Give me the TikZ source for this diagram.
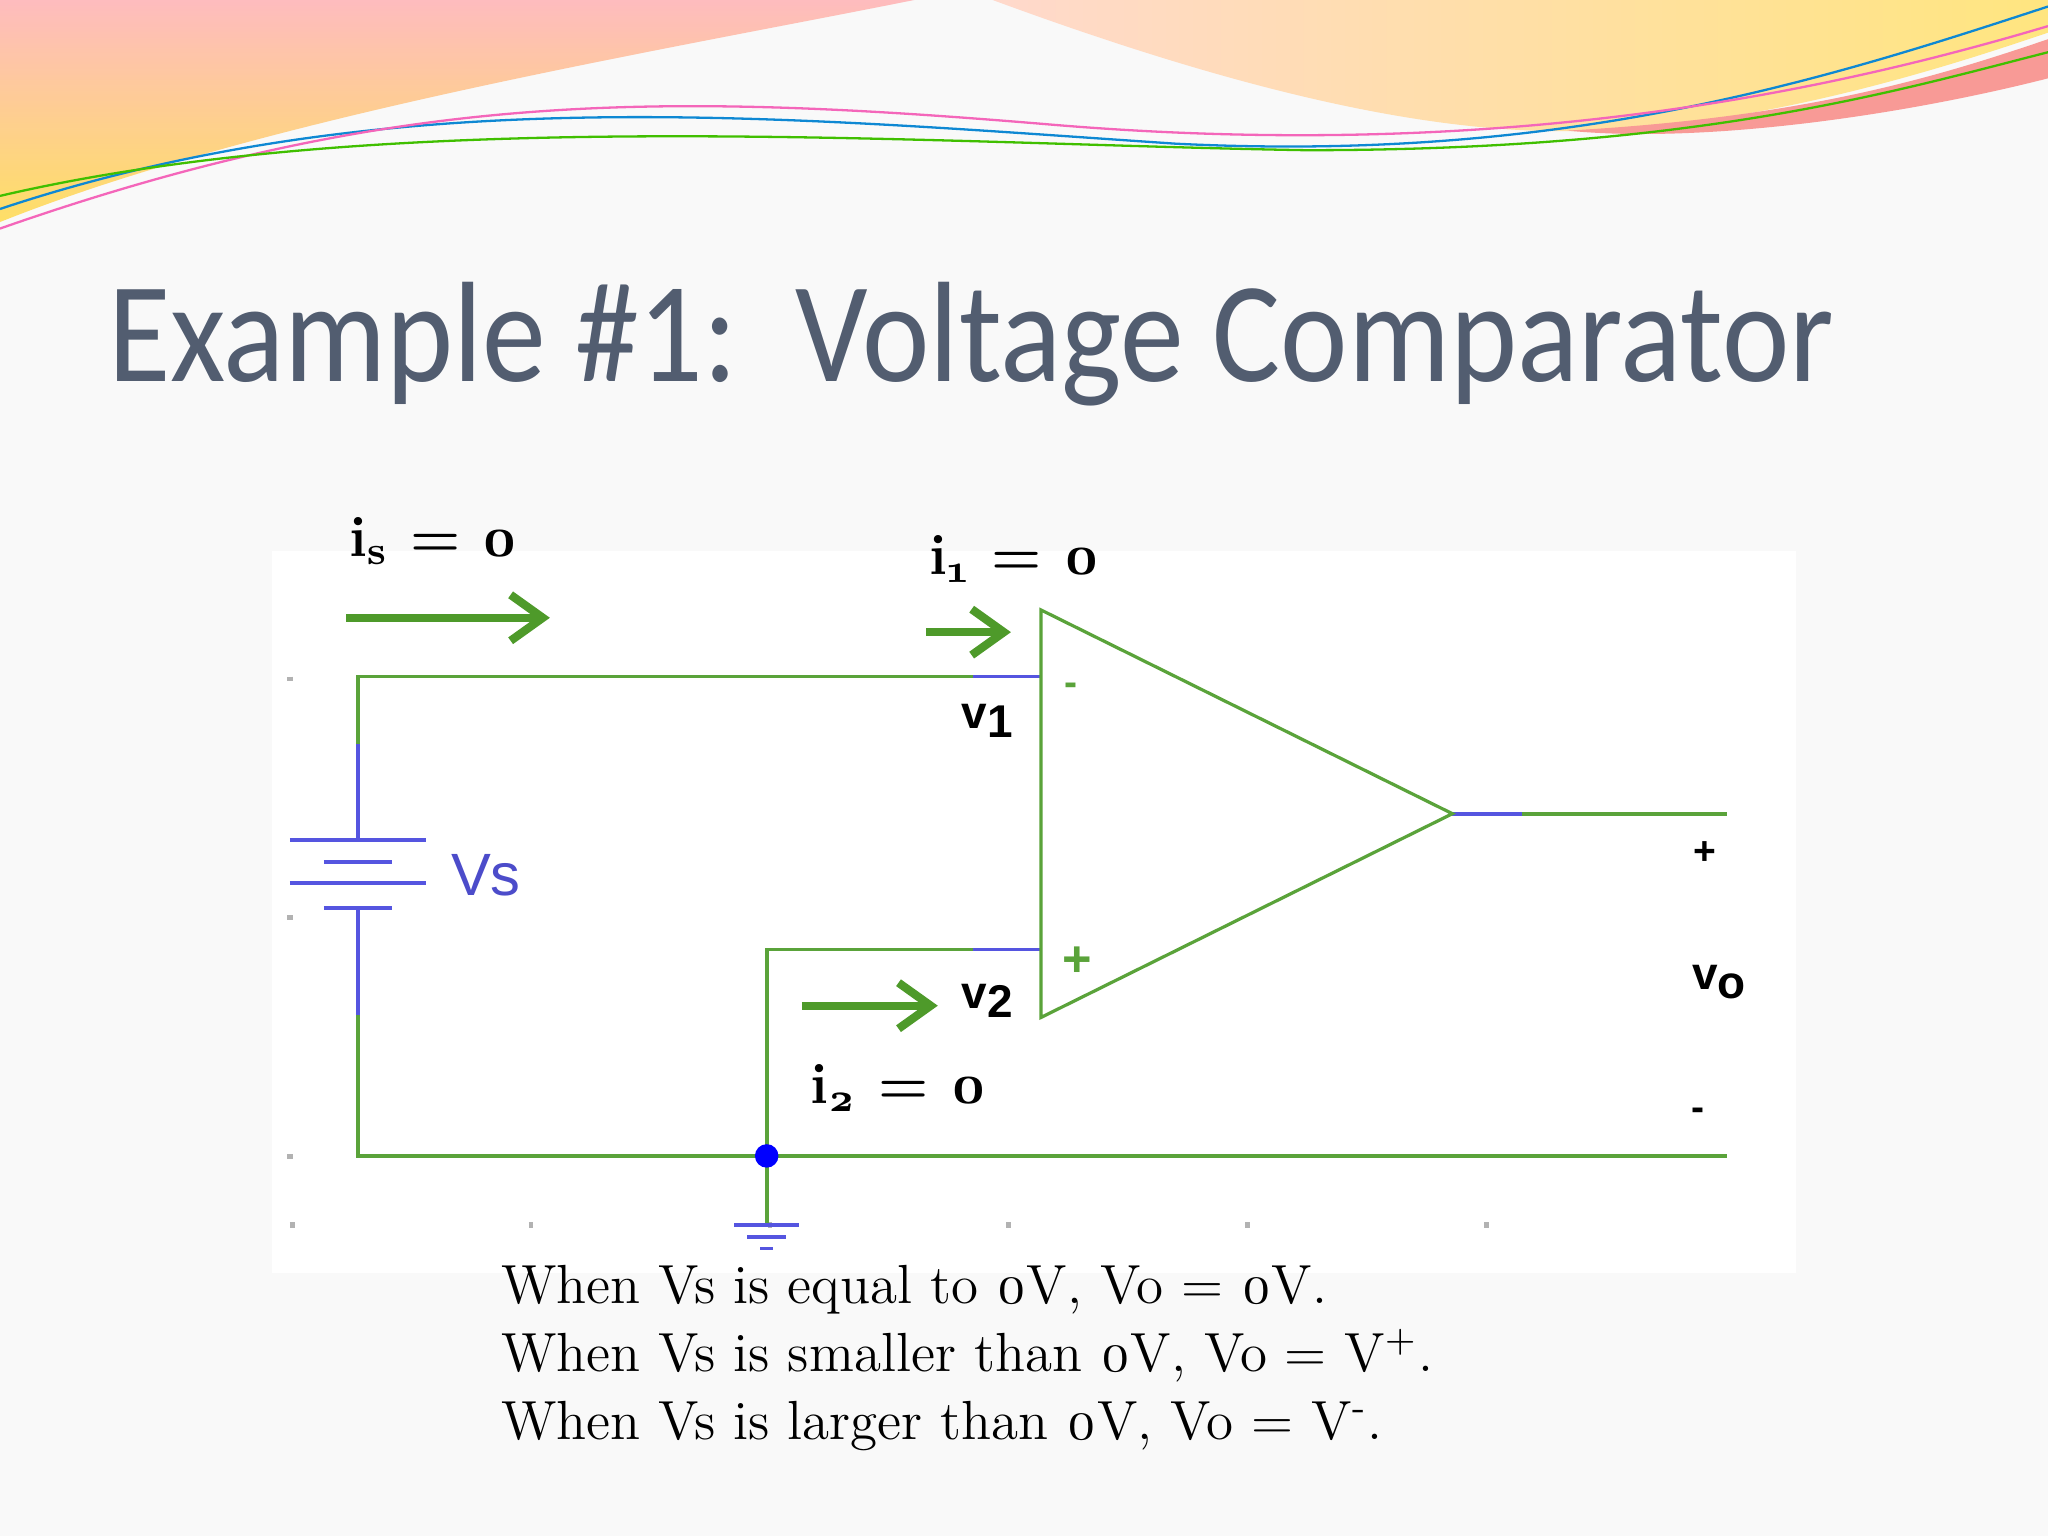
\documentclass[tikz,border=0pt]{standalone}
\usepackage{fontspec}
\setmainfont{Latin Modern Roman}[Numbers=OldStyle]
\newfontfamily\titlefont{Carlito}
\newfontfamily\arialf{Liberation Sans}
\usetikzlibrary{arrows.meta}
\definecolor{wire}{HTML}{5AA33A}
\definecolor{bluew}{HTML}{5555E0}
\definecolor{titlec}{HTML}{525D70}
\definecolor{arrowg}{HTML}{4E9A2A}
\tikzset{w/.style={draw=wire,line width=0.8pt},
 bw/.style={draw=bluew,line width=0.8pt},
 garrow/.style={draw=arrowg,line width=1.8pt,-{Straight Barb[length=7pt,width=10pt]}},
 ilab/.style={font=\fontsize{12.5}{12.5}\selectfont\bfseries,inner sep=0pt},
 small/.style={font=\arialf\bfseries\fontsize{8.5}{8.5}\selectfont,inner sep=0pt}}
\begin{document}
\begin{tikzpicture}[x=0.01cm,y=-0.01cm]
\fill[white!95!gray] (0,0) rectangle (1568,1176);
\useasboundingbox (0,0) rectangle (1568,1176);
% top swoosh
\shade[top color=magenta!35!orange!45,bottom color=orange!40!yellow!70,opacity=.85] (0,0) -- (700,0) .. controls (500,40) and (200,90) .. (0,170) -- cycle;
\shade[left color=magenta!20!orange!25,right color=orange!40!yellow!50] (760,0) .. controls (950,70) and (1100,105) .. (1220,100) .. controls (1350,95) and (1480,55) .. (1568,25) -- (1568,0) -- cycle;
\fill[magenta!45!orange!55] (1200,100) .. controls (1380,90) and (1480,60) .. (1568,30) -- (1568,60) .. controls (1450,90) and (1300,110) .. (1200,100) -- cycle;
\draw[cyan!70!blue,line width=.5pt] (0,160) .. controls (300,60) and (600,90) .. (900,110) .. controls (1200,125) and (1400,60) .. (1568,5);
\draw[magenta!60,line width=.5pt] (0,175) .. controls (300,70) and (500,70) .. (800,95) .. controls (1150,125) and (1400,70) .. (1568,20);
\draw[green!50!olive,line width=.5pt] (0,150) .. controls (300,80) and (700,110) .. (1000,115) .. controls (1300,115) and (1450,70) .. (1568,40);
% title
\node[anchor=base west,inner sep=0pt,text=titlec,font=\titlefont\fontsize{27.8}{27.8}\selectfont] (title) at (82,292) {\scalebox{1}[1.12]{Example \#1:\ \ Voltage Comparator}};
% diagram background
\fill[white] (208,422) rectangle (1375,975);
\draw[gray!60,line width=1.2pt,dash pattern=on 1pt off 51pt] (222,938) -- (1290,938);
\draw[gray!60,line width=1.2pt,dash pattern=on 1pt off 51pt] (222,518) -- (222,938);
% coordinates
\coordinate (tl) at (274,518); \coordinate (mi) at (797,518);
\coordinate (bl) at (274,885); \coordinate (br) at (1322,885);
\coordinate (j) at (587,885); \coordinate (pu) at (587,727); \coordinate (pi) at (797,727);
\coordinate (out) at (1112,623); \coordinate (oe) at (1322,623);
\coordinate (gnd) at (587,938);
% wires
\draw[w] (mi) -- (tl) -- (274,643);
\draw[w] (274,695) -- (bl) -- (br);
\draw[w] (j) -- (pu) -- (pi);
\draw[w] (j) -- (gnd);
\draw[w] (out) -- (oe);
\draw[bw] (274,570) -- (274,643);
\draw[bw] (274,695) -- (274,777);
\draw[bw] (745,518) -- (797,518);
\draw[bw] (745,727) -- (797,727);
\draw[bw] (1112,623) -- (1165,623);
% battery
\draw[bw] (222,643) -- (326,643); \draw[bw] (248,660) -- (300,660);
\draw[bw] (222,676) -- (326,676); \draw[bw] (248,695) -- (300,695);
% ground
\draw[bw] (562,938) -- (612,938); \draw[bw] (572,947) -- (602,947); \draw[bw] (582,956) -- (592,956);
\fill[blue] (j) circle (9);
% opamp
\draw[w,line width=.7pt] (797,467) -- (797,779) -- (out) -- cycle;
\node[small,text=wire] (minus) at (820,528) {-};
\node[font=\arialf\bfseries\fontsize{11}{11}\selectfont,text=wire,inner sep=0pt] (plus) at (825,736) {+};
\node[small,font=\arialf\bfseries\fontsize{10}{10}\selectfont] (v1) at (756,552) {v\raisebox{-2pt}{1}};
\node[small,font=\arialf\bfseries\fontsize{10}{10}\selectfont] (v2) at (756,766) {v\raisebox{-2pt}{2}};
\node[small] (op) at (1305,653) {+};
\node[small,font=\arialf\bfseries\fontsize{10}{10}\selectfont] (vo) at (1316,752) {v\raisebox{-2pt}{o}};
\node[small] (om) at (1300,853) {-};
\node[text=bluew!90!black,font=\arialf\fontsize{13}{13}\selectfont,inner sep=0pt] (vs) at (372,670) {Vs};
% current arrows
\coordinate (a1) at (265,473); \coordinate (a1e) at (421,473);
\coordinate (a2) at (709,484); \coordinate (a2e) at (774,484);
\coordinate (a3) at (614,770); \coordinate (a3e) at (718,770);
\draw[garrow] (a1) -- (a1e);
\draw[garrow] (a2) -- (a2e);
\draw[garrow] (a3) -- (a3e);
\node[ilab,anchor=base west] (is) at (267,426) {i\textsubscript{s} = 0};
\node[ilab,anchor=base west] (i1) at (711,440) {i\textsubscript{1} = 0};
\node[ilab,anchor=base west] (i2) at (620,845) {i\textsubscript{2} = 0};
% bottom text
\node[anchor=north west,align=left,inner sep=0pt,font=\fontsize{12}{14.8}\selectfont] (txt) at (383,968) {When Vs is equal to 0V, Vo = 0V.\\When Vs is smaller than 0V, Vo = V\textsuperscript{+}.\\When Vs is larger than 0V, Vo = V\textsuperscript{-}.};
\end{tikzpicture}
\end{document}
